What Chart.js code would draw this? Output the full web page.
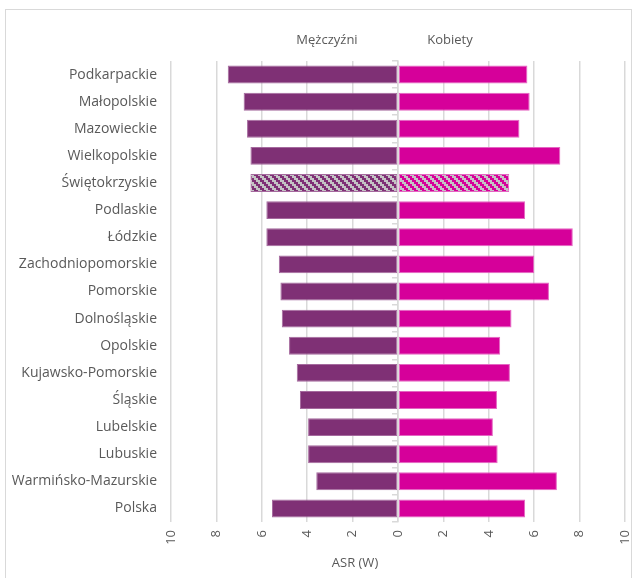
<!DOCTYPE html>
<html lang="pl">
<head>
    <meta charset="UTF-8">
    <title>ASR (W) - województwa</title>
    <script src="https://cdn.jsdelivr.net/npm/chart.js"></script>
    <style>
        body {
            margin: 0;
            background: #ffffff;
        }
        .frame {
            position: absolute;
            left: 5px;
            top: 9px;
            width: 627px;
            height: 575px;
            border: 1px solid #d9d9d9;
            box-sizing: border-box;
        }
        .chart-container {
            position: absolute;
            left: 0;
            top: 0;
            width: 637px;
            height: 578px;
        }
    </style>
</head>
<body>
    <div class="frame"></div>
    <div class="chart-container">
        <canvas id="chart"></canvas>
    </div>

    <script>
        const regions = [
            'Podkarpackie', 'Małopolskie', 'Mazowieckie', 'Wielkopolskie', 'Świętokrzyskie',
            'Podlaskie', 'Łódzkie', 'Zachodniopomorskie', 'Pomorskie', 'Dolnośląskie',
            'Opolskie', 'Kujawsko-Pomorskie', 'Śląskie', 'Lubelskie', 'Lubuskie',
            'Warmińsko-Mazurskie', 'Polska'
        ];
        // men are shown on the left, so values are negative
        const men = [-7.5, -6.8, -6.65, -6.5, -6.5, -5.8, -5.8, -5.25, -5.18, -5.12,
                     -4.8, -4.46, -4.32, -3.96, -3.96, -3.6, -5.55];
        const women = [5.7, 5.8, 5.35, 7.15, 4.9, 5.6, 7.7, 6.0, 6.65, 5.0,
                       4.5, 4.93, 4.36, 4.18, 4.39, 7.0, 5.6];
        const xTicks = [-10, -8, -6, -4, -2, 0, 2, 4, 6, 8, 10];
        const hatched = 'Świętokrzyskie';

        const menColor = '#7f3075';
        const womenColor = '#d6009a';
        const textColor = '#595959';
        const fontFamily = '"Open Sans", sans-serif';

        // diagonal stair-step stripes for the highlighted region
        function stripes(color) {
            const c = document.createElement('canvas');
            c.width = 8;
            c.height = 8;
            const g = c.getContext('2d');
            g.fillStyle = '#c4c4c4';
            g.fillRect(0, 0, 8, 8);
            g.fillStyle = color;
            for (let r = 0; r < 4; r++) {
                for (let k = 0; k < 2; k++) {
                    g.fillRect(((r + k) % 4) * 2, r * 2, 2, 2);
                }
            }
            return g.createPattern(c, 'repeat');
        }
        const menPattern = stripes(menColor);
        const womenPattern = stripes(womenColor);

        const labelsPlugin = {
            id: 'sideLabels',
            afterDraw(chart) {
                const ctx = chart.ctx;
                ctx.save();
                ctx.fillStyle = textColor;
                ctx.font = '13px ' + fontFamily;
                ctx.textAlign = 'center';
                ctx.textBaseline = 'middle';
                ctx.fillText('Mężczyźni', 327, 40);
                ctx.fillText('Kobiety', 450, 40);
                ctx.fillText('ASR (W)', 355, 563);
                ctx.restore();
            }
        };

        const ctx = document.getElementById('chart').getContext('2d');
        const chart = new Chart(ctx, {
            type: 'bar',
            data: {
                labels: regions,
                datasets: [
                    {
                        label: 'Mężczyźni',
                        data: men,
                        backgroundColor: regions.map(r => r === hatched ? menPattern : menColor),
                        borderColor: '#a56a9e',
                        borderWidth: 1,
                        borderSkipped: false
                    },
                    {
                        label: 'Kobiety',
                        data: women,
                        backgroundColor: regions.map(r => r === hatched ? womenPattern : womenColor),
                        borderColor: '#e466c2',
                        borderWidth: 1,
                        borderSkipped: false
                    }
                ]
            },
            options: {
                indexAxis: 'y',
                responsive: true,
                maintainAspectRatio: false,
                animation: false,
                categoryPercentage: 1,
                barPercentage: 0.66,
                layout: {
                    padding: { top: 61, left: 0, right: 12, bottom: 0 }
                },
                plugins: {
                    legend: { display: false },
                    tooltip: { enabled: false }
                },
                scales: {
                    x: {
                        type: 'linear',
                        stacked: true,
                        min: -10,
                        max: 10,
                        afterBuildTicks(scale) {
                            scale.ticks = xTicks.map(v => ({ value: v }));
                        },
                        afterFit(scale) {
                            scale.paddingLeft = 0;
                            scale.paddingRight = 0;
                            scale.height = 56;
                        },
                        grid: {
                            color: '#d9d9d9',
                            lineWidth: 1.5,
                            drawTicks: false
                        },
                        border: { display: false },
                        ticks: {
                            color: textColor,
                            font: { size: 13, family: fontFamily },
                            minRotation: 90,
                            maxRotation: 90,
                            padding: 8,
                            callback: v => Math.abs(v)
                        }
                    },
                    y: {
                        stacked: true,
                        position: 'left',
                        afterFit(scale) {
                            scale.width = 171;
                        },
                        grid: { display: false, drawTicks: false },
                        border: { display: false },
                        ticks: {
                            color: textColor,
                            font: { size: 14, family: fontFamily },
                            padding: 14
                        }
                    },
                    yZero: {
                        type: 'category',
                        labels: regions,
                        position: { x: 0 },
                        grid: {
                            drawOnChartArea: false,
                            drawTicks: true,
                            tickLength: 5,
                            color: '#d9d9d9',
                            lineWidth: 1.5,
                            offset: true
                        },
                        border: { display: true, color: '#d9d9d9', width: 1.5 },
                        ticks: { display: false }
                    }
                }
            },
            plugins: [labelsPlugin]
        });
    </script>
</body>
</html>
